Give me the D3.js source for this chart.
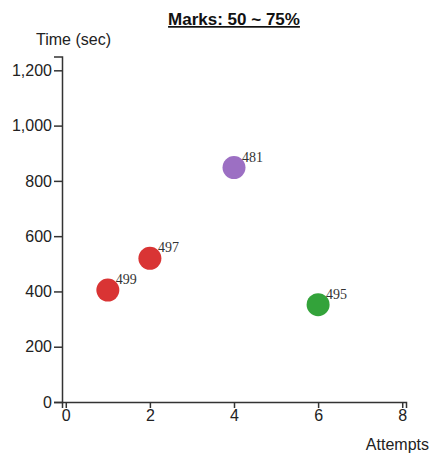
<!DOCTYPE html>
<html><head><meta charset="utf-8">
<script src="https://cdn.jsdelivr.net/npm/d3@7"></script>
<style>body{margin:0;background:#fff}</style>
</head><body>
<svg id="c" width="436" height="457"></svg>
<script>
const attempts = [1, 2, 4, 6];
const times = [405, 520, 848, 352];
const labels = ["499", "497", "481", "495"];
const colors = ["#d93434", "#d93434", "#9c6fc3", "#33a33a"];
const xTicks = [0, 2, 4, 6, 8];
const yTicks = [0, 200, 400, 600, 800, 1000, 1200];

const svg = d3.select("#c");
const x = d3.scaleLinear().domain([-0.09, 8.09]).range([62, 406]);
const y = d3.scaleLinear().domain([0, 1250]).range([402, 56.5]);

const fmt = d3.format(",");
const gx = svg.append("g").attr("transform", "translate(0,402)")
  .call(d3.axisBottom(x).tickValues(xTicks).tickSize(6).tickPadding(2).tickFormat(d3.format("d")));
const gy = svg.append("g").attr("transform", "translate(62,0)")
  .call(d3.axisLeft(y).tickValues(yTicks).tickSize(8).tickPadding(2).tickFormat(fmt));
[gx, gy].forEach(g => {
  g.selectAll("path,line").attr("stroke", "#333").attr("stroke-width", 1.5);
  g.selectAll("text").attr("font-family", "Liberation Sans, Arial, sans-serif")
    .attr("font-size", 16).attr("fill", "#222");
});

svg.selectAll("circle").data(attempts).join("circle")
  .attr("cx", (d) => x(d)).attr("cy", (d, i) => y(times[i]))
  .attr("r", 11.5).attr("fill", (d, i) => colors[i]);

svg.selectAll("text.lbl").data(attempts).join("text").attr("class", "lbl")
  .attr("x", (d) => x(d) + 8).attr("y", (d, i) => y(times[i]) - 6)
  .attr("font-family", "Liberation Serif, Times New Roman, serif")
  .attr("font-size", 14).attr("fill", "#333").text((d, i) => labels[i]);

svg.append("text").attr("x", 234).attr("y", 25).attr("text-anchor", "middle")
  .attr("font-family", "Liberation Sans, Arial, sans-serif").attr("font-size", 17)
  .attr("font-weight", "bold").attr("text-decoration", "underline").attr("fill", "#111")
  .text("Marks: 50 ~ 75%");
svg.append("text").attr("x", 36).attr("y", 45)
  .attr("font-family", "Liberation Sans, Arial, sans-serif").attr("font-size", 16)
  .attr("fill", "#222").text("Time (sec)");
svg.append("text").attr("x", 429).attr("y", 450).attr("text-anchor", "end")
  .attr("font-family", "Liberation Sans, Arial, sans-serif").attr("font-size", 16)
  .attr("fill", "#222").text("Attempts");
</script>
</body></html>
